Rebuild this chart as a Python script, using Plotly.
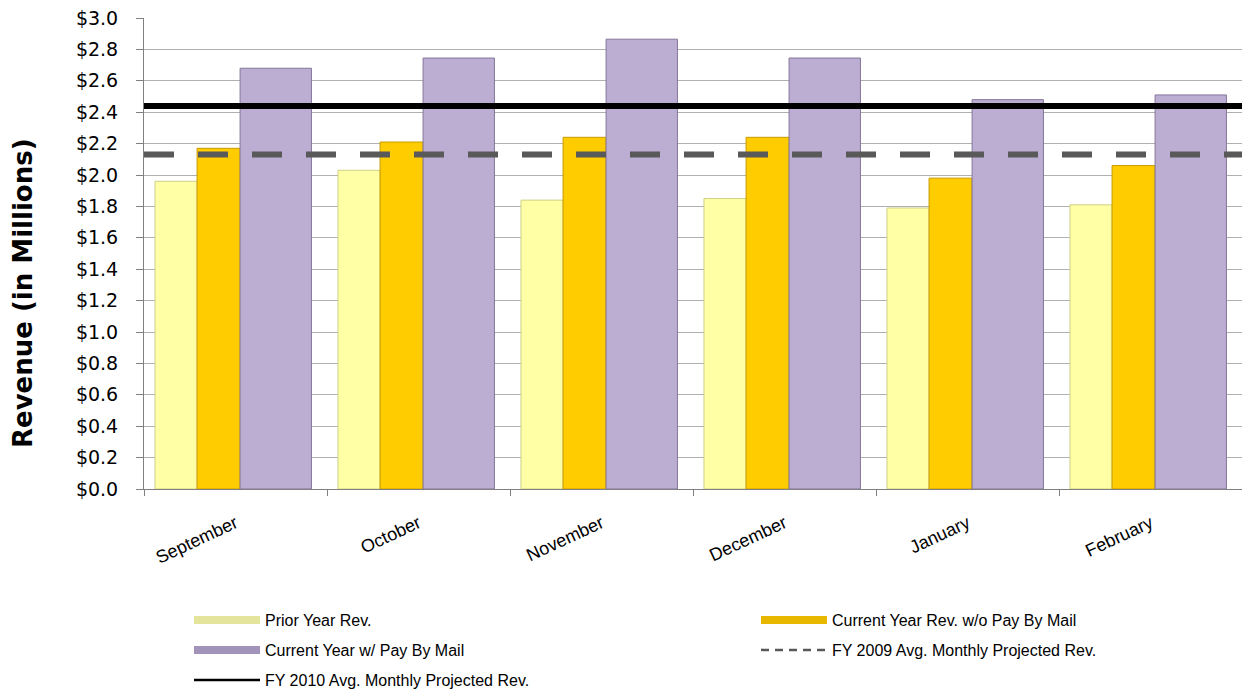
import plotly.graph_objects as go

# Monthly revenue, in millions of dollars
months = ["September", "October", "November", "December", "January", "February"]
prior_year = [1.96, 2.03, 1.84, 1.85, 1.79, 1.81]
current_wo_mail = [2.17, 2.21, 2.24, 2.24, 1.98, 2.06]
current_w_mail = [2.68, 2.745, 2.865, 2.745, 2.48, 2.51]

# Average monthly projected revenue reference levels
fy2009_avg = 2.13
fy2010_avg = 2.44

font_main = "Liberation Sans, Arial, sans-serif"
font_wide = "DejaVu Sans, Liberation Sans, sans-serif"

# name, values, bar offset, bar width, fill, edge, legend swatch colour, legend id
series = [
    ("Prior Year Rev.", prior_year, -0.44, 0.23, "#FFFFA6", "#CFCF86", "#E4E49C", "legend"),
    ("Current Year Rev. w/o Pay By Mail", current_wo_mail, -0.21, 0.235, "#FFCC00", "#C99A00", "#E8B800", "legend2"),
    ("Current Year w/ Pay By Mail", current_w_mail, 0.025, 0.39, "#BCADD3", "#857799", "#A193BA", "legend3"),
]

fig = go.Figure()

# Bars share each month's slot side by side; the third bar is wider
for name, values, off, w, fill, edge, _, _ in series:
    fig.add_trace(go.Bar(
        x=months, y=values, name=name, showlegend=False,
        offset=off, width=w,
        marker=dict(color=fill, line=dict(color=edge, width=1)),
    ))

# Legend swatches for the bar series, drawn as thick bands
for name, _, _, _, _, _, swatch, leg in series:
    fig.add_trace(go.Scatter(
        x=[None], y=[None], mode="lines", name=name, legend=leg,
        line=dict(color=swatch, width=8),
    ))

# Horizontal reference lines drawn across the full plot width
fig.add_trace(go.Scatter(
    x=[0, 1], y=[fy2009_avg, fy2009_avg], xaxis="x2",
    mode="lines", name="FY 2009 Avg. Monthly Projected Rev.", showlegend=False,
    line=dict(color="#595959", width=6, dash="30px,24px"),
))
fig.add_trace(go.Scatter(
    x=[0, 1], y=[fy2010_avg, fy2010_avg], xaxis="x2",
    mode="lines", name="FY 2010 Avg. Monthly Projected Rev.", showlegend=False,
    line=dict(color="#000000", width=6),
))

# Thinner legend keys for the two reference lines
fig.add_trace(go.Scatter(
    x=[None], y=[None], mode="lines", name="FY 2009 Avg. Monthly Projected Rev.",
    legend="legend4", line=dict(color="#595959", width=2.5, dash="8px,6px"),
))
fig.add_trace(go.Scatter(
    x=[None], y=[None], mode="lines", name="FY 2010 Avg. Monthly Projected Rev.",
    legend="legend5", line=dict(color="#000000", width=2.5),
))


def legend_at(px_x, px_y):
    # one legend box per entry, placed by pixel position of its swatch start / row centre
    return dict(
        orientation="h", xanchor="left", yanchor="middle",
        x=(px_x - 6 - 144) / 1098, y=(489 - px_y) / 471,
        itemwidth=66,
        font=dict(size=16, family=font_main, color="#000000"),
        bgcolor="rgba(0,0,0,0)",
    )


fig.update_layout(
    width=1242, height=692,
    margin=dict(l=144, r=0, t=18, b=203, autoexpand=False),
    paper_bgcolor="white", plot_bgcolor="white",
    barmode="overlay",
    showlegend=True,
    font=dict(family=font_main, color="#000000"),
    xaxis=dict(
        type="category",
        tickson="boundaries",
        ticks="outside", ticklen=6, tickcolor="#808080",
        showline=True, linecolor="#808080", linewidth=1,
        showgrid=False,
        tickangle=-25,
        tickfont=dict(size=18, family=font_main),
        ticklabelstandoff=16,
        range=[-0.5, 5.5],
    ),
    xaxis2=dict(overlaying="x", range=[0, 1], visible=False, fixedrange=True),
    yaxis=dict(
        range=[0, 3.0], dtick=0.2, tick0=0,
        tickformat="$.1f",
        ticks="outside", ticklen=7, tickcolor="#808080",
        showline=True, linecolor="#808080", linewidth=1,
        showgrid=True, gridcolor="#B0B0B0", gridwidth=1,
        tickfont=dict(size=19, family=font_wide),
        ticklabelstandoff=14,
        zeroline=False,
    ),
    legend=legend_at(195, 620),
    legend2=legend_at(762, 620),
    legend3=legend_at(195, 650),
    legend4=legend_at(762, 650),
    legend5=legend_at(195, 680),
    annotations=[dict(
        text="<b>Revenue (in Millions)</b>", textangle=-90,
        xref="paper", yref="paper", x=(23 - 144) / 1098, y=(489 - 293) / 471,
        xanchor="center", yanchor="middle", showarrow=False,
        font=dict(size=26, family=font_wide, color="#000000"),
    )],
)

fig.write_html("out.html")
